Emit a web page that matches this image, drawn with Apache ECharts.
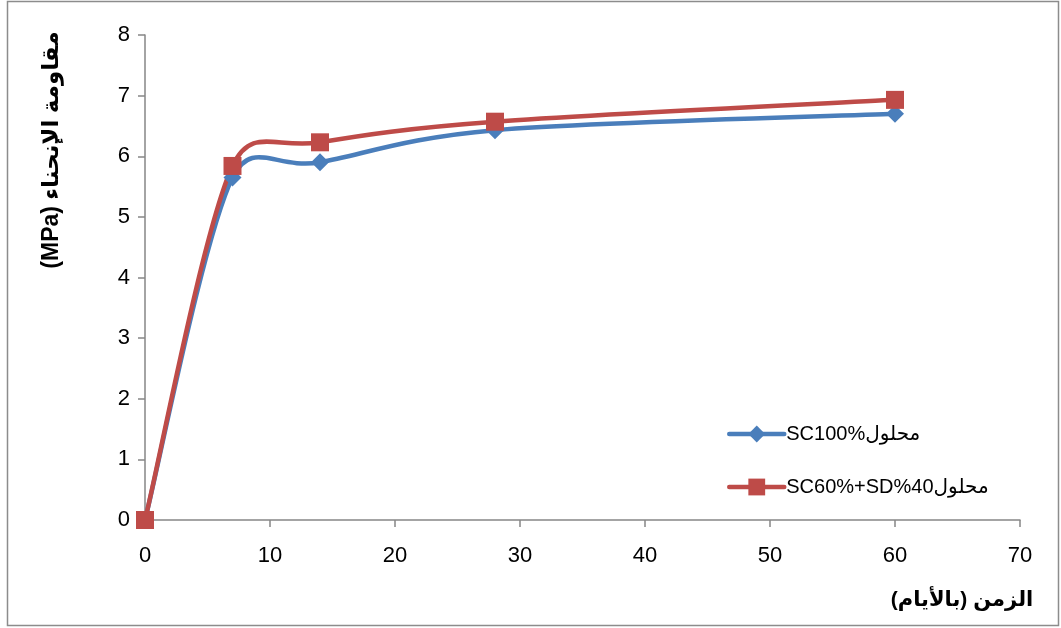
<!DOCTYPE html>
<html>
<head>
<meta charset="utf-8">
<script src="https://cdn.jsdelivr.net/npm/echarts@6/dist/echarts.min.js"></script>
<style>
  html, body { margin: 0; padding: 0; background: #fff; }
  #chart { width: 1061px; height: 628px; }
</style>
</head>
<body>
<div id="chart"></div>
<script>
// Flexural strength over curing time for two solutions
const days = [0, 7, 14, 28, 60];
const sc100 = [0, 5.65, 5.9, 6.43, 6.7];
const sc60sd40 = [0, 5.84, 6.23, 6.57, 6.93];
const seriesNames = ['SC100%محلول', 'SC60%+SD%40محلول'];
const seriesColors = ['#4a7ebb', '#be4b48'];
const yTicks = [0, 1, 2, 3, 4, 5, 6, 7, 8];
const xTicks = [0, 10, 20, 30, 40, 50, 60, 70];
const yTitle = '(MPa) مقاومة الإنحناء';
const xTitle = 'الزمن (بالأيام)';

const FONT = '"Liberation Sans", "DejaVu Sans", sans-serif';
const LINE_W = 4.5;
const chart = echarts.init(document.getElementById('chart'));

const toPairs = (xs, ys) => xs.map((x, i) => [x, ys[i]]);

// Smoothed curve through the points (pixel space): cubic Bezier segments whose
// control handles are 1/6 of the neighbour chord, clamped to half the segment.
function smoothSegments(pts) {
  const n = pts.length;
  const dist = (a, b) => Math.hypot(a[0] - b[0], a[1] - b[1]);
  const segs = [];
  for (let i = 0; i < n - 1; i++) {
    const p0 = pts[Math.max(i - 1, 0)];
    const p1 = pts[i];
    const p2 = pts[i + 1];
    const p3 = pts[Math.min(i + 2, n - 1)];
    const d12 = dist(p1, p2);
    const d02 = dist(p0, p2);
    const d13 = dist(p1, p3);
    const f1 = (d02 / 6 < d12 / 2 || d02 === 0) ? 1 / 6 : d12 / 2 / d02;
    const f2 = (d13 / 6 < d12 / 2 || d13 === 0) ? 1 / 6 : d12 / 2 / d13;
    segs.push({
      x1: p1[0], y1: p1[1],
      cpx1: p1[0] + (p2[0] - p0[0]) * f1,
      cpy1: p1[1] + (p2[1] - p0[1]) * f1,
      cpx2: p2[0] - (p3[0] - p1[0]) * f2,
      cpy2: p2[1] - (p3[1] - p1[1]) * f2,
      x2: p2[0], y2: p2[1]
    });
  }
  return segs;
}

function curveSeries(xs, ys, color) {
  return {
    type: 'custom',
    silent: true,
    data: [[xs[0], ys[0]]],
    renderItem: function (params, api) {
      const pts = xs.map((x, i) => api.coord([x, ys[i]]));
      return {
        type: 'group',
        children: smoothSegments(pts).map(s => ({
          type: 'bezierCurve',
          shape: s,
          style: { stroke: color, lineWidth: LINE_W, fill: null, lineCap: 'round' }
        }))
      };
    }
  };
}

function markerSeries(name, xs, ys, color, symbol) {
  return {
    name: name,
    type: 'line',
    data: toPairs(xs, ys),
    symbol: symbol,
    symbolSize: 18,
    showAllSymbol: true,
    lineStyle: { color: color, width: LINE_W, opacity: 0 },
    itemStyle: { color: color }
  };
}

chart.setOption({
  animation: false,
  backgroundColor: '#fff',
  grid: { left: 145, right: 41, top: 35, bottom: 108 },
  xAxis: {
    type: 'value',
    min: xTicks[0], max: xTicks[xTicks.length - 1], interval: 10,
    axisLine: { lineStyle: { color: '#868686', width: 1.5 } },
    axisTick: { show: true, length: 7, lineStyle: { color: '#868686', width: 1.5 } },
    axisLabel: { color: '#000', fontSize: 22, fontFamily: FONT, margin: 25 },
    splitLine: { show: false }
  },
  yAxis: {
    type: 'value',
    min: yTicks[0], max: yTicks[yTicks.length - 1], interval: 1,
    axisLine: { show: true, lineStyle: { color: '#868686', width: 1.5 } },
    axisTick: { show: true, length: 7, lineStyle: { color: '#868686', width: 1.5 } },
    axisLabel: { color: '#000', fontSize: 22, fontFamily: FONT, margin: 15 },
    splitLine: { show: false }
  },
  legend: {
    orient: 'vertical',
    left: 722,
    top: 419,
    itemWidth: 55,
    itemHeight: 21,
    itemGap: 33,
    textStyle: { color: '#000', fontSize: 20, fontFamily: FONT, padding: [0, 0, 0, -3] },
    data: seriesNames.map((name, i) => ({
      name: name,
      lineStyle: { color: seriesColors[i], width: LINE_W, opacity: 1, cap: 'round' }
    }))
  },
  series: [
    curveSeries(days, sc100, seriesColors[0]),
    markerSeries(seriesNames[0], days, sc100, seriesColors[0], 'diamond'),
    curveSeries(days, sc60sd40, seriesColors[1]),
    markerSeries(seriesNames[1], days, sc60sd40, seriesColors[1], 'rect')
  ],
  graphic: [
    {
      type: 'rect',
      shape: { x: 7.5, y: 1.5, width: 1051, height: 624 },
      style: { fill: 'none', stroke: '#8c8c8c', lineWidth: 1.5 },
      silent: true
    },
    {
      type: 'text',
      x: 52, y: 150,
      rotation: Math.PI / 2,
      style: {
        text: yTitle,
        font: 'bold 23px ' + FONT,
        fill: '#000',
        align: 'center',
        verticalAlign: 'middle'
      }
    },
    {
      type: 'text',
      x: 962, y: 600,
      style: {
        text: xTitle,
        font: 'bold 21px ' + FONT,
        fill: '#000',
        align: 'center',
        verticalAlign: 'middle'
      }
    }
  ]
});
</script>
</body>
</html>
